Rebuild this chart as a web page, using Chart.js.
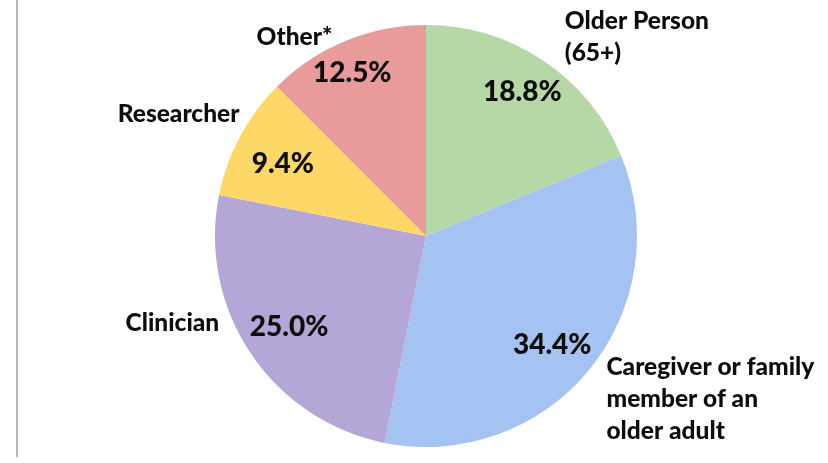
<!DOCTYPE html>
<html>
<head>
<meta charset="utf-8">
<script src="https://cdn.jsdelivr.net/npm/chart.js@4"></script>
<style>
html,body{margin:0;padding:0;background:#fff;}
#wrap{position:relative;width:828px;height:463px;}
#edge{position:absolute;left:16px;top:0;width:2px;height:457px;background:#b4b4b4;}
canvas{position:absolute;left:0;top:0;}
</style>
</head>
<body>
<div id="wrap"><div id="edge"></div><canvas id="c" width="828" height="463"></canvas></div>
<script>
const categories = [["Older Person","(65+)"],["Caregiver or family","member of an","older adult"],["Clinician"],["Researcher"],["Other*"]];
const values = [18.8, 34.4, 25.0, 9.4, 12.5];
const pctLabels = ["18.8%","34.4%","25.0%","9.4%","12.5%"];
const colors = ["#b6d8a7","#a4c2f2","#b4a6d6","#fed866","#e99a9b"];

// label layout (angle offset in degrees, radius factor, alignment)
const outerLayout = [
  {da:1.1, f:1.15, align:"left"},
  {da:2.7, f:1.154, align:"left"},
  {da:10.9, f:1.063, align:"right"},
  {da:5.1, f:1.057, align:"right"},
  {da:-2.75, f:1.041, align:"right"}
];
const pctLayout = [
  {da:0, f:0.82},{da:1.3, f:0.79},{da:0, f:0.78},{da:-1.4, f:0.76},{da:-1.8, f:0.85}
];

const labelPlugin = {
  id:"labels",
  afterDatasetsDraw(chart){
    const ctx = chart.ctx;
    const meta = chart.getDatasetMeta(0);
    meta.data.forEach((arc,i)=>{
      const p = arc.getProps(["x","y","startAngle","endAngle","outerRadius"],true);
      const mid = (p.startAngle+p.endAngle)/2;
      const a1 = mid + pctLayout[i].da*Math.PI/180;
      const px = p.x + Math.cos(a1)*p.outerRadius*pctLayout[i].f;
      const py = p.y + Math.sin(a1)*p.outerRadius*pctLayout[i].f;
      ctx.save();
      ctx.fillStyle="#0d0d0d";
      ctx.font="900 28px Lato";
      ctx.textAlign="center";ctx.textBaseline="middle";
      ctx.fillText(pctLabels[i],px,py);
      const L = outerLayout[i];
      const a2 = mid + L.da*Math.PI/180;
      const cx = p.x + Math.cos(a2)*p.outerRadius*L.f;
      const cy = p.y + Math.sin(a2)*p.outerRadius*L.f;
      const lines = categories[i];
      const lh = 32;
      ctx.font="900 24.5px Lato";
      ctx.textAlign=L.align;
      lines.forEach((t,k)=>{
        ctx.fillText(t,cx,cy+(k-(lines.length-1)/2)*lh);
      });
      ctx.restore();
    });
  }
};

new Chart(document.getElementById("c"),{
  type:"pie",
  data:{
    labels:categories.map(c=>c.join(" ")),
    datasets:[{data:values,backgroundColor:colors,borderWidth:0}]
  },
  options:{
    responsive:false,
    animation:false,
    layout:{padding:{left:215,right:191,top:25,bottom:16}},
    plugins:{legend:{display:false},tooltip:{enabled:false}}
  },
  plugins:[labelPlugin]
});
</script>
</body>
</html>
